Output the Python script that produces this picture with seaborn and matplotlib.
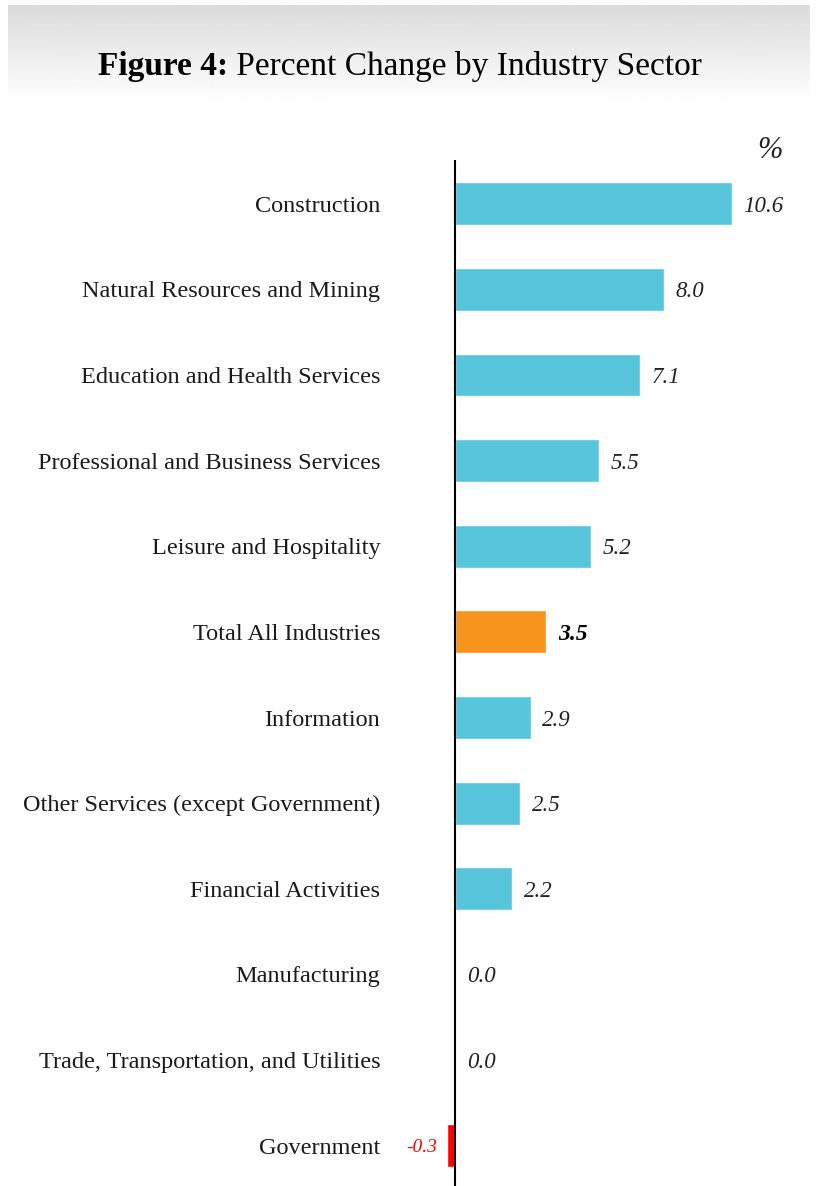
import numpy as np
import matplotlib
matplotlib.use("Agg")
import matplotlib.pyplot as plt
import seaborn as sns

sectors = [
    "Construction",
    "Natural Resources and Mining",
    "Education and Health Services",
    "Professional and Business Services",
    "Leisure and Hospitality",
    "Total All Industries",
    "Information",
    "Other Services (except Government)",
    "Financial Activities",
    "Manufacturing",
    "Trade, Transportation, and Utilities",
    "Government",
]
pct_change = [10.6, 8.0, 7.1, 5.5, 5.2, 3.5, 2.9, 2.5, 2.2, 0.0, 0.0, -0.3]

CYAN = "#57c6dc"
ORANGE = "#f7941e"
RED = "#ff0000"
colors = [ORANGE if s == "Total All Industries" else (RED if v < 0 else CYAN)
          for s, v in zip(sectors, pct_change)]

sns.set_style("white")
plt.rcParams["font.family"] = ["Liberation Serif", "DejaVu Serif"]

W, H = 818, 1186
fig = plt.figure(figsize=(W / 100, H / 100), dpi=100)

# header gradient band
hax = fig.add_axes([8 / W, 1 - 102 / H, (W - 16) / W, 97 / H])
grad = np.linspace(0.86, 1.0, 100).reshape(-1, 1)
hax.imshow(np.repeat(grad, 2, axis=1), cmap="gray", vmin=0, vmax=1,
           aspect="auto", extent=[0, 1, 0, 1])
hax.set_axis_off()

# main axes: 0 at x=455px, 26.1 px per unit
ppu = 26.1
x0 = 455
xmin, xmax = -1.0, 12.0
left = x0 + xmin * ppu
right = x0 + xmax * ppu
ax = fig.add_axes([left / W, 0, (right - left) / W, 1 - 160 / H])

sns.barplot(x=pct_change, y=sectors, hue=sectors, palette=colors,
            legend=False, width=0.5, ax=ax, saturation=1)

ax.set_xlim(xmin, xmax)
ax.set_ylim(11.47, -0.51)
ax.axvline(0, color="black", lw=1.5)
for sp in ax.spines.values():
    sp.set_visible(False)
ax.set_xticks([])
ax.set_xlabel("")
ax.set_ylabel("")
ax.tick_params(axis="y", length=0, pad=35, labelsize=17.5, labelcolor="#1a1a1a")

# value labels
for i, (s, v) in enumerate(zip(sectors, pct_change)):
    if v < 0:
        ax.text(v - 0.4, i, f"{v:.1f}", ha="right", va="center_baseline",
                style="italic", color=RED, fontsize=14)
    elif s == "Total All Industries":
        ax.text(v + 0.45, i, f"{v:.1f}", ha="left", va="center_baseline",
                style="italic", weight="bold", color="black", fontsize=17)
    else:
        ax.text(v + 0.45, i, f"{v:.1f}", ha="left", va="center_baseline",
                style="italic", color="#222222", fontsize=16.5)

fig.text(770 / W, 1 - 150 / H, "%", ha="center", va="center",
         style="italic", fontsize=22, color="#222222")

# title: bold "Figure 4:" + regular remainder, centred
fig.canvas.draw()
r = fig.canvas.get_renderer()
t1 = fig.text(0, 1 - 66 / H, "Figure 4:", weight="bold", fontsize=24,
              va="center", color="black")
t2 = fig.text(0, 1 - 66 / H, " Percent Change by Industry Sector", fontsize=24,
              va="center", color="black")
w1 = t1.get_window_extent(r).width
w2 = t2.get_window_extent(r).width
start = 400 - (w1 + w2) / 2
t1.set_x(start / W)
t2.set_x((start + w1) / W)

fig.savefig("out.png", dpi=100)
